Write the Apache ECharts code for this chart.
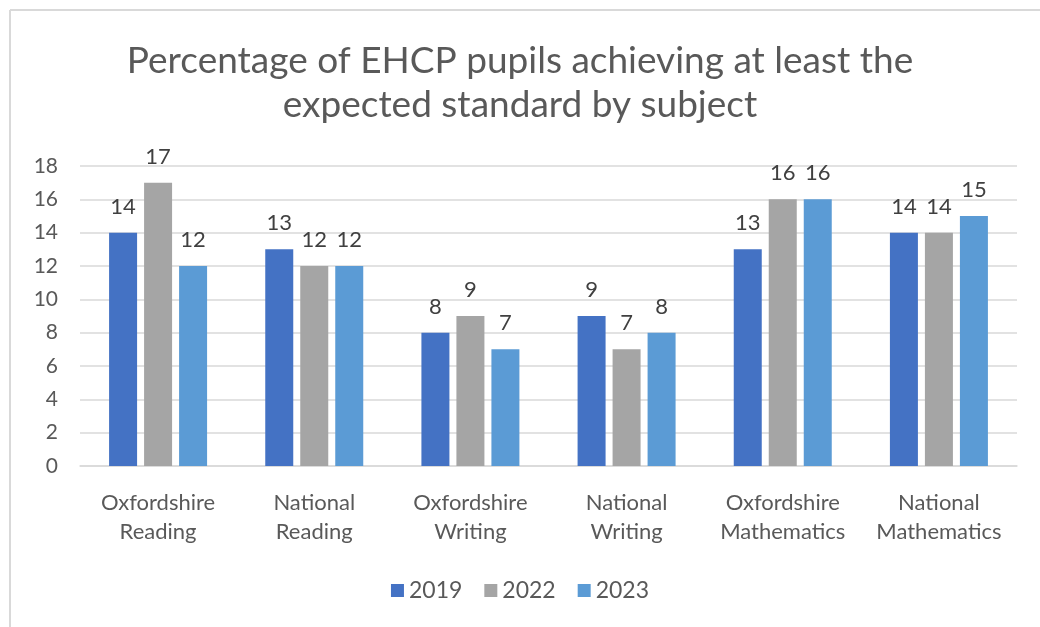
<!DOCTYPE html>
<html>
<head>
<meta charset="utf-8">
<script src="https://cdn.jsdelivr.net/npm/echarts@6/dist/echarts.min.js"></script>
<style>
  html, body { margin: 0; padding: 0; background: #fff; }
  #chart { width: 1040px; height: 627px; }
</style>
</head>
<body>
<div id="chart"></div>
<script>
const categories = [
  'Oxfordshire\nReading',
  'National\nReading',
  'Oxfordshire\nWriting',
  'National\nWriting',
  'Oxfordshire\nMathematics',
  'National\nMathematics'
]
const years = ['2019', '2022', '2023']
const values2019 = [14, 13, 8, 9, 13, 14]
const values2022 = [17, 12, 9, 7, 16, 14]
const values2023 = [12, 12, 7, 8, 16, 15]
const colors = ['#4472c4', '#a5a5a5', '#5b9bd5']

const font = 'Lato, "Open Sans", sans-serif'
const textColor = '#595959'

const chart = echarts.init(document.getElementById('chart'))

const makeSeries = (name, data, color) => ({
  name,
  type: 'bar',
  data,
  barWidth: 28,
  barGap: '25%',
  itemStyle: { color },
  label: {
    show: true,
    position: 'top',
    distance: 15,
    color: '#404040',
    fontSize: 22,
    fontFamily: font
  }
})

const option = {
  animation: false,
  backgroundColor: '#fff',
  title: {
    text: 'Percentage of EHCP pupils achieving at least the\nexpected standard by subject',
    left: 'center',
    top: 34,
    textStyle: {
      color: textColor,
      fontSize: 37,
      fontWeight: 'normal',
      fontFamily: font,
      lineHeight: 44
    }
  },
  legend: {
    data: years,
    bottom: 20,
    left: 'center',
    itemWidth: 13,
    itemHeight: 13,
    itemGap: 22,
    icon: 'rect',
    textStyle: { color: textColor, fontSize: 23, fontFamily: font }
  },
  grid: {
    left: 80,
    right: 23,
    top: 166,
    bottom: 161
  },
  xAxis: {
    type: 'category',
    data: categories,
    axisLine: { lineStyle: { color: '#d9d9d9', width: 1.5 } },
    axisTick: { show: false },
    axisLabel: {
      interval: 0,
      hideOverlap: false,
      color: textColor,
      fontSize: 22,
      fontFamily: font,
      lineHeight: 29,
      margin: 22
    }
  },
  yAxis: {
    type: 'value',
    min: 0,
    max: 18,
    interval: 2,
    axisLine: { show: false },
    axisTick: { show: false },
    splitLine: { lineStyle: { color: '#d9d9d9', width: 1.5 } },
    axisLabel: {
      color: textColor,
      fontSize: 21,
      fontFamily: font,
      margin: 22
    }
  },
  graphic: [
    { type: 'line', shape: { x1: 10, y1: 10, x2: 1040, y2: 10 }, style: { stroke: '#d9d9d9', lineWidth: 2 } },
    { type: 'line', shape: { x1: 10, y1: 10, x2: 10, y2: 627 }, style: { stroke: '#d9d9d9', lineWidth: 2 } }
  ],
  series: [
    makeSeries('2019', values2019, colors[0]),
    makeSeries('2022', values2022, colors[1]),
    makeSeries('2023', values2023, colors[2])
  ]
}

chart.setOption(option)
</script>
</body>
</html>
